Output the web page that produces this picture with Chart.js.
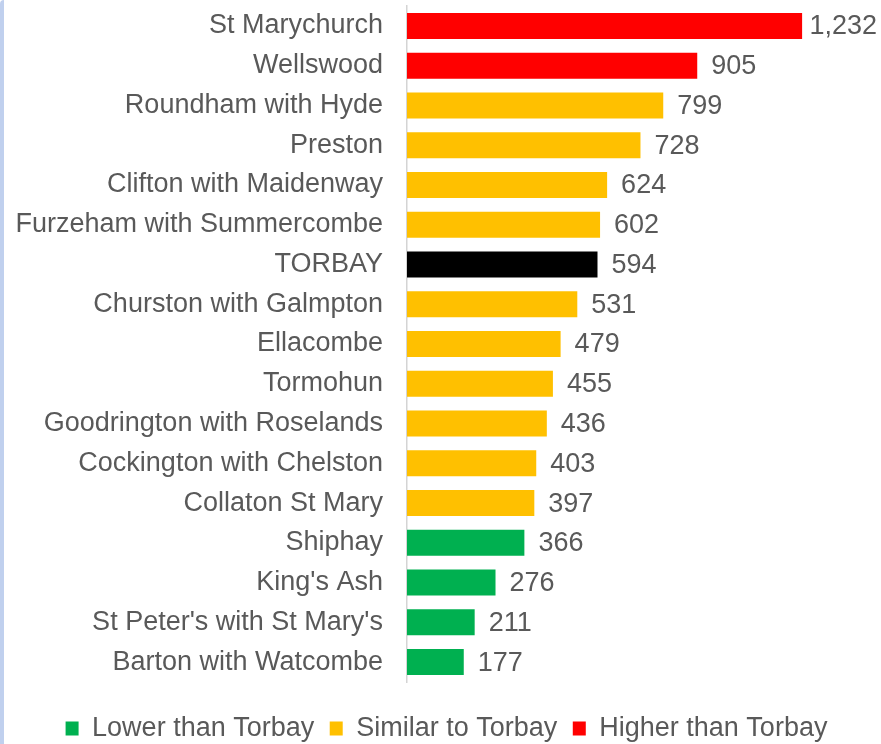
<!DOCTYPE html>
<html><head><meta charset="utf-8">
<script src="https://cdn.jsdelivr.net/npm/chart.js@4.4.1/dist/chart.umd.min.js"></script>
<style>
html,body{margin:0;padding:0;background:#fff;}
#wrap{position:relative;width:881px;height:744px;overflow:hidden;}
#edge{position:absolute;left:0;top:0;width:4px;height:744px;background:#c0d0ee;border-top-left-radius:6px;}
canvas{position:absolute;left:0;top:0;}
</style></head><body>
<div id="wrap"><canvas id="c" width="881" height="744"></canvas><div id="edge"></div></div>
<script>
const categories = ["St Marychurch","Wellswood","Roundham with Hyde","Preston","Clifton with Maidenway","Furzeham with Summercombe","TORBAY","Churston with Galmpton","Ellacombe","Tormohun","Goodrington with Roselands","Cockington with Chelston","Collaton St Mary","Shiphay","King's Ash","St Peter's with St Mary's","Barton with Watcombe"];
const values = [1232,905,799,728,624,602,594,531,479,455,436,403,397,366,276,211,177];
const groups = ["higher","higher","similar","similar","similar","similar","torbay","similar","similar","similar","similar","similar","similar","lower","lower","lower","lower"];
const legendKeys = ["lower","similar","higher"];
const legendLabels = ["Lower than Torbay","Similar to Torbay","Higher than Torbay"];

const colors = {lower:"#00B050", similar:"#FFC000", higher:"#FF0000", torbay:"#000000"};
const FONT = '"Liberation Sans", Arial, sans-serif';
const TEXT = "#595959";

const valueLabels = {
  id:"valueLabels",
  afterDatasetsDraw(chart){
    const ctx = chart.ctx;
    const meta = chart.getDatasetMeta(0);
    ctx.save();
    ctx.font = "27px " + FONT;
    ctx.fillStyle = TEXT;
    ctx.textBaseline = "middle";
    ctx.textAlign = "left";
    meta.data.forEach((bar,i)=>{
      const txt = values[i].toLocaleString("en-US");
      const w = ctx.measureText(txt).width;
      let x = bar.x + 14;
      if (x + w > chart.width - 4) x = chart.width - 4 - w;
      ctx.fillText(txt, x, bar.y + 1);
    });
    ctx.restore();
  }
};

new Chart(document.getElementById("c"), {
  type:"bar",
  data:{
    labels: categories,
    datasets:[{
      data: values,
      backgroundColor: groups.map(g=>colors[g]),
      borderWidth:0,
      barPercentage:0.654,
      categoryPercentage:1
    }]
  },
  options:{
    indexAxis:"y",
    responsive:false,
    animation:false,
    layout:{padding:{top:6,right:0,bottom:0,left:12}},
    scales:{
      x:{
        min:0, max:1478,
        display:true,
        grid:{display:false, drawTicks:false},
        border:{display:false},
        ticks:{display:false},
        afterFit:(s)=>{ s.height = 17.5; s.paddingLeft = 0; s.paddingRight = 0; }
      },
      y:{
        grid:{display:false, drawTicks:false},
        border:{display:true, color:"#d4d4d4", width:1.5},
        ticks:{color:TEXT, font:{family:FONT, size:27}, padding:24, autoSkip:false},
        afterFit:(s)=>{ s.width = 395; s.paddingTop = 0; s.paddingBottom = 0; }
      }
    },
    plugins:{
      tooltip:{enabled:false},
      legend:{
        position:"bottom",
        maxHeight:44.5,
        onClick:()=>{},
        labels:{
          boxWidth:13, boxHeight:14, padding:15.5,
          color:TEXT,
          font:{family:FONT, size:27},
          generateLabels:()=>legendKeys.map((k,i)=>({
            text:legendLabels[i], fillStyle:colors[k], strokeStyle:colors[k],
            lineWidth:0, hidden:false, fontColor:TEXT, datasetIndex:0
          }))
        }
      }
    }
  },
  plugins:[valueLabels]
});
</script>
</body></html>
